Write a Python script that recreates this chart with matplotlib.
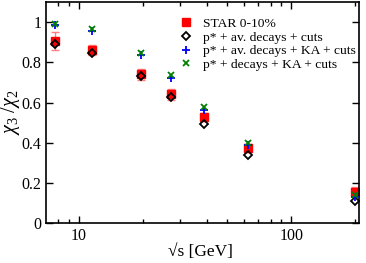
import matplotlib
matplotlib.use('Agg')
import matplotlib.pyplot as plt
from matplotlib.ticker import FixedLocator, FixedFormatter, NullFormatter

plt.rcParams['font.family'] = ['Liberation Serif', 'DejaVu Serif']
plt.rcParams['mathtext.fontset'] = 'custom'
plt.rcParams['mathtext.rm'] = 'Liberation Serif'
plt.rcParams['mathtext.it'] = 'Liberation Serif:italic'

# collision energies (GeV)
sqrt_s = [7.7, 11.5, 19.6, 27, 39, 62.4, 200]

star = [0.905, 0.86, 0.74, 0.64, 0.53, 0.372, 0.155]
star_err = [0.045, 0.025, 0.028, 0.028, 0.02, 0.02, 0.025]
av_decays = [0.89, 0.848, 0.733, 0.628, 0.495, 0.34, 0.112]
av_decays_ka = [0.985, 0.958, 0.838, 0.722, 0.565, 0.388, 0.13]
decays_ka = [0.993, 0.965, 0.848, 0.735, 0.578, 0.398, 0.138]

fig = plt.figure(figsize=(3.66, 2.63), dpi=100)
ax = fig.add_axes([0.126, 0.152, 0.854, 0.84])

ax.errorbar(sqrt_s, star, yerr=star_err, fmt='none', ecolor='#ff8080',
            elinewidth=1.0, capsize=3, zorder=1)
ax.plot(sqrt_s, star, 's', color='red', markersize=6, label='STAR 0-10%', zorder=2)
ax.plot(sqrt_s, av_decays, 'D', mfc='none', mec='black', mew=1.3, markersize=4.5,
        label='p* + av. decays + cuts', zorder=3)
ax.plot(sqrt_s, av_decays_ka, '+', color='blue', mew=1.3, markersize=6,
        label='p* + av. decays + KA + cuts', zorder=4)
ax.plot(sqrt_s, decays_ka, 'x', color='green', mew=1.3, markersize=4.5,
        label='p* + decays + KA + cuts', zorder=5)

ax.set_xscale('log')
ax.set_xlim(7, 208)
ax.set_ylim(0, 1.1)
ax.xaxis.set_major_locator(FixedLocator([10, 100]))
ax.xaxis.set_major_formatter(FixedFormatter(['10', '100']))
ax.xaxis.set_minor_locator(FixedLocator([8, 9, 20, 30, 40, 50, 60, 70, 80, 90, 200]))
ax.xaxis.set_minor_formatter(NullFormatter())
ax.set_yticks([0, 0.2, 0.4, 0.6, 0.8, 1.0])
ax.set_yticklabels(['0', '0.2', '0.4', '0.6', '0.8', '1'])

ax.tick_params(which='both', direction='in', top=True, right=True, labelsize=11.5)
ax.tick_params(which='major', length=5, width=1)
ax.tick_params(which='minor', length=3, width=1)
for sp in ax.spines.values():
    sp.set_linewidth(1.2)

ax.set_xlabel('\u221as [GeV]', fontsize=12.5)
ax.xaxis.set_label_coords(0.494, -0.095)
ax.set_ylabel(r'$\chi_3\ /\chi_2$', fontsize=14.5)
ax.yaxis.set_label_coords(-0.078, 0.5)

ax.legend(loc='upper left', frameon=False, fontsize=9.7, handletextpad=0.75,
          labelspacing=0.1, handlelength=1.0, borderpad=0.4,
          bbox_to_anchor=(0.387, 0.986))

fig.savefig('out.png', dpi=100)
